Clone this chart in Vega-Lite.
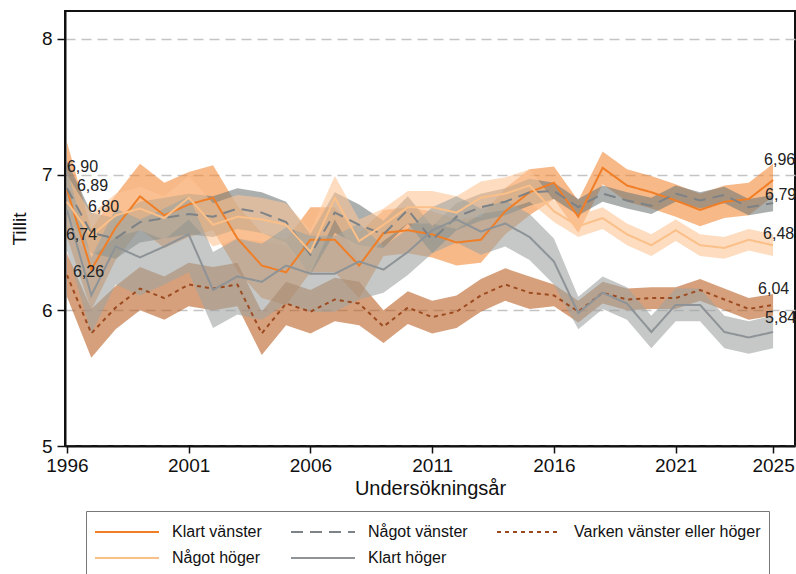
{
  "$schema": "https://vega.github.io/schema/vega-lite/v6.json",
  "width": 730,
  "height": 435,
  "autosize": "none",
  "padding": {"left": 65, "top": 11, "right": 1, "bottom": 128},
  "config": {
    "font": "Liberation Sans",
    "view": {"stroke": "#111", "strokeWidth": 2},
    "axis": {"labelColor": "#111", "titleColor": "#111", "titleFontWeight": "normal", "domainColor": "#111", "domainWidth": 2, "tickColor": "#111", "tickWidth": 1.5}
  },
  "datasets": {
    "series": [
      {"group":"Klart vänster","year":1996,"value":6.89,"low":6.54,"high":7.24},
      {"group":"Klart vänster","year":1997,"value":6.30,"low":6.00,"high":6.60},
      {"group":"Klart vänster","year":1998,"value":6.61,"low":6.37,"high":6.85},
      {"group":"Klart vänster","year":1999,"value":6.84,"low":6.60,"high":7.08},
      {"group":"Klart vänster","year":2000,"value":6.70,"low":6.46,"high":6.94},
      {"group":"Klart vänster","year":2001,"value":6.78,"low":6.54,"high":7.02},
      {"group":"Klart vänster","year":2002,"value":6.83,"low":6.59,"high":7.07},
      {"group":"Klart vänster","year":2003,"value":6.53,"low":6.29,"high":6.77},
      {"group":"Klart vänster","year":2004,"value":6.33,"low":6.09,"high":6.57},
      {"group":"Klart vänster","year":2005,"value":6.28,"low":6.04,"high":6.52},
      {"group":"Klart vänster","year":2006,"value":6.52,"low":6.28,"high":6.76},
      {"group":"Klart vänster","year":2007,"value":6.52,"low":6.28,"high":6.76},
      {"group":"Klart vänster","year":2008,"value":6.33,"low":6.09,"high":6.57},
      {"group":"Klart vänster","year":2009,"value":6.57,"low":6.40,"high":6.74},
      {"group":"Klart vänster","year":2010,"value":6.59,"low":6.42,"high":6.76},
      {"group":"Klart vänster","year":2011,"value":6.56,"low":6.39,"high":6.73},
      {"group":"Klart vänster","year":2012,"value":6.50,"low":6.33,"high":6.67},
      {"group":"Klart vänster","year":2013,"value":6.52,"low":6.35,"high":6.69},
      {"group":"Klart vänster","year":2014,"value":6.73,"low":6.56,"high":6.90},
      {"group":"Klart vänster","year":2015,"value":6.87,"low":6.70,"high":7.04},
      {"group":"Klart vänster","year":2016,"value":6.94,"low":6.82,"high":7.06},
      {"group":"Klart vänster","year":2017,"value":6.69,"low":6.57,"high":6.81},
      {"group":"Klart vänster","year":2018,"value":7.05,"low":6.93,"high":7.17},
      {"group":"Klart vänster","year":2019,"value":6.92,"low":6.80,"high":7.04},
      {"group":"Klart vänster","year":2020,"value":6.87,"low":6.75,"high":6.99},
      {"group":"Klart vänster","year":2021,"value":6.81,"low":6.69,"high":6.93},
      {"group":"Klart vänster","year":2022,"value":6.74,"low":6.62,"high":6.86},
      {"group":"Klart vänster","year":2023,"value":6.80,"low":6.68,"high":6.92},
      {"group":"Klart vänster","year":2024,"value":6.82,"low":6.70,"high":6.94},
      {"group":"Klart vänster","year":2025,"value":6.96,"low":6.84,"high":7.08},

      {"group":"Något vänster","year":1996,"value":6.90,"low":6.70,"high":7.10},
      {"group":"Något vänster","year":1997,"value":6.57,"low":6.42,"high":6.72},
      {"group":"Något vänster","year":1998,"value":6.53,"low":6.38,"high":6.68},
      {"group":"Något vänster","year":1999,"value":6.65,"low":6.50,"high":6.80},
      {"group":"Något vänster","year":2000,"value":6.68,"low":6.53,"high":6.83},
      {"group":"Något vänster","year":2001,"value":6.71,"low":6.56,"high":6.86},
      {"group":"Något vänster","year":2002,"value":6.69,"low":6.54,"high":6.84},
      {"group":"Något vänster","year":2003,"value":6.75,"low":6.60,"high":6.90},
      {"group":"Något vänster","year":2004,"value":6.72,"low":6.57,"high":6.87},
      {"group":"Något vänster","year":2005,"value":6.65,"low":6.50,"high":6.80},
      {"group":"Något vänster","year":2006,"value":6.41,"low":6.26,"high":6.56},
      {"group":"Något vänster","year":2007,"value":6.72,"low":6.57,"high":6.87},
      {"group":"Något vänster","year":2008,"value":6.63,"low":6.48,"high":6.78},
      {"group":"Något vänster","year":2009,"value":6.56,"low":6.46,"high":6.66},
      {"group":"Något vänster","year":2010,"value":6.74,"low":6.64,"high":6.84},
      {"group":"Något vänster","year":2011,"value":6.52,"low":6.42,"high":6.62},
      {"group":"Något vänster","year":2012,"value":6.69,"low":6.59,"high":6.79},
      {"group":"Något vänster","year":2013,"value":6.76,"low":6.66,"high":6.86},
      {"group":"Något vänster","year":2014,"value":6.80,"low":6.70,"high":6.90},
      {"group":"Något vänster","year":2015,"value":6.87,"low":6.77,"high":6.97},
      {"group":"Något vänster","year":2016,"value":6.88,"low":6.82,"high":6.94},
      {"group":"Något vänster","year":2017,"value":6.76,"low":6.70,"high":6.82},
      {"group":"Något vänster","year":2018,"value":6.86,"low":6.80,"high":6.92},
      {"group":"Något vänster","year":2019,"value":6.81,"low":6.75,"high":6.87},
      {"group":"Något vänster","year":2020,"value":6.77,"low":6.71,"high":6.83},
      {"group":"Något vänster","year":2021,"value":6.86,"low":6.80,"high":6.92},
      {"group":"Något vänster","year":2022,"value":6.81,"low":6.75,"high":6.87},
      {"group":"Något vänster","year":2023,"value":6.85,"low":6.79,"high":6.91},
      {"group":"Något vänster","year":2024,"value":6.76,"low":6.70,"high":6.82},
      {"group":"Något vänster","year":2025,"value":6.79,"low":6.73,"high":6.85},

      {"group":"Varken vänster eller höger","year":1996,"value":6.26,"low":6.10,"high":6.42},
      {"group":"Varken vänster eller höger","year":1997,"value":5.83,"low":5.65,"high":6.01},
      {"group":"Varken vänster eller höger","year":1998,"value":6.02,"low":5.86,"high":6.18},
      {"group":"Varken vänster eller höger","year":1999,"value":6.16,"low":6.00,"high":6.32},
      {"group":"Varken vänster eller höger","year":2000,"value":6.09,"low":5.93,"high":6.25},
      {"group":"Varken vänster eller höger","year":2001,"value":6.19,"low":6.03,"high":6.35},
      {"group":"Varken vänster eller höger","year":2002,"value":6.16,"low":6.00,"high":6.32},
      {"group":"Varken vänster eller höger","year":2003,"value":6.19,"low":6.03,"high":6.35},
      {"group":"Varken vänster eller höger","year":2004,"value":5.83,"low":5.67,"high":5.99},
      {"group":"Varken vänster eller höger","year":2005,"value":6.05,"low":5.89,"high":6.21},
      {"group":"Varken vänster eller höger","year":2006,"value":5.99,"low":5.83,"high":6.15},
      {"group":"Varken vänster eller höger","year":2007,"value":6.08,"low":5.92,"high":6.24},
      {"group":"Varken vänster eller höger","year":2008,"value":6.05,"low":5.89,"high":6.21},
      {"group":"Varken vänster eller höger","year":2009,"value":5.88,"low":5.76,"high":6.00},
      {"group":"Varken vänster eller höger","year":2010,"value":6.02,"low":5.90,"high":6.14},
      {"group":"Varken vänster eller höger","year":2011,"value":5.95,"low":5.83,"high":6.07},
      {"group":"Varken vänster eller höger","year":2012,"value":5.99,"low":5.87,"high":6.11},
      {"group":"Varken vänster eller höger","year":2013,"value":6.11,"low":5.99,"high":6.23},
      {"group":"Varken vänster eller höger","year":2014,"value":6.19,"low":6.07,"high":6.31},
      {"group":"Varken vänster eller höger","year":2015,"value":6.13,"low":6.01,"high":6.25},
      {"group":"Varken vänster eller höger","year":2016,"value":6.11,"low":6.03,"high":6.19},
      {"group":"Varken vänster eller höger","year":2017,"value":5.99,"low":5.91,"high":6.07},
      {"group":"Varken vänster eller höger","year":2018,"value":6.13,"low":6.05,"high":6.21},
      {"group":"Varken vänster eller höger","year":2019,"value":6.08,"low":6.00,"high":6.16},
      {"group":"Varken vänster eller höger","year":2020,"value":6.09,"low":6.01,"high":6.17},
      {"group":"Varken vänster eller höger","year":2021,"value":6.09,"low":6.01,"high":6.17},
      {"group":"Varken vänster eller höger","year":2022,"value":6.15,"low":6.07,"high":6.23},
      {"group":"Varken vänster eller höger","year":2023,"value":6.08,"low":6.00,"high":6.16},
      {"group":"Varken vänster eller höger","year":2024,"value":6.01,"low":5.93,"high":6.09},
      {"group":"Varken vänster eller höger","year":2025,"value":6.04,"low":5.96,"high":6.12},

      {"group":"Något höger","year":1996,"value":6.80,"low":6.60,"high":7.00},
      {"group":"Något höger","year":1997,"value":6.55,"low":6.39,"high":6.71},
      {"group":"Något höger","year":1998,"value":6.70,"low":6.54,"high":6.86},
      {"group":"Något höger","year":1999,"value":6.75,"low":6.59,"high":6.91},
      {"group":"Något höger","year":2000,"value":6.68,"low":6.52,"high":6.84},
      {"group":"Något höger","year":2001,"value":6.83,"low":6.67,"high":6.99},
      {"group":"Något höger","year":2002,"value":6.63,"low":6.47,"high":6.79},
      {"group":"Något höger","year":2003,"value":6.69,"low":6.53,"high":6.85},
      {"group":"Något höger","year":2004,"value":6.67,"low":6.51,"high":6.83},
      {"group":"Något höger","year":2005,"value":6.63,"low":6.47,"high":6.79},
      {"group":"Något höger","year":2006,"value":6.43,"low":6.27,"high":6.59},
      {"group":"Något höger","year":2007,"value":6.83,"low":6.67,"high":6.99},
      {"group":"Något höger","year":2008,"value":6.51,"low":6.35,"high":6.67},
      {"group":"Något höger","year":2009,"value":6.63,"low":6.51,"high":6.75},
      {"group":"Något höger","year":2010,"value":6.76,"low":6.64,"high":6.88},
      {"group":"Något höger","year":2011,"value":6.76,"low":6.64,"high":6.88},
      {"group":"Något höger","year":2012,"value":6.72,"low":6.60,"high":6.84},
      {"group":"Något höger","year":2013,"value":6.83,"low":6.71,"high":6.95},
      {"group":"Något höger","year":2014,"value":6.86,"low":6.74,"high":6.98},
      {"group":"Något höger","year":2015,"value":6.92,"low":6.80,"high":7.04},
      {"group":"Något höger","year":2016,"value":6.73,"low":6.65,"high":6.81},
      {"group":"Något höger","year":2017,"value":6.62,"low":6.54,"high":6.70},
      {"group":"Något höger","year":2018,"value":6.68,"low":6.60,"high":6.76},
      {"group":"Något höger","year":2019,"value":6.56,"low":6.48,"high":6.64},
      {"group":"Något höger","year":2020,"value":6.48,"low":6.40,"high":6.56},
      {"group":"Något höger","year":2021,"value":6.59,"low":6.51,"high":6.67},
      {"group":"Något höger","year":2022,"value":6.48,"low":6.40,"high":6.56},
      {"group":"Något höger","year":2023,"value":6.46,"low":6.38,"high":6.54},
      {"group":"Något höger","year":2024,"value":6.52,"low":6.44,"high":6.60},
      {"group":"Något höger","year":2025,"value":6.48,"low":6.40,"high":6.56},

      {"group":"Klart höger","year":1996,"value":6.74,"low":6.44,"high":7.04},
      {"group":"Klart höger","year":1997,"value":6.11,"low":5.83,"high":6.39},
      {"group":"Klart höger","year":1998,"value":6.47,"low":6.19,"high":6.75},
      {"group":"Klart höger","year":1999,"value":6.39,"low":6.11,"high":6.67},
      {"group":"Klart höger","year":2000,"value":6.47,"low":6.19,"high":6.75},
      {"group":"Klart höger","year":2001,"value":6.56,"low":6.28,"high":6.84},
      {"group":"Klart höger","year":2002,"value":6.15,"low":5.87,"high":6.43},
      {"group":"Klart höger","year":2003,"value":6.25,"low":5.97,"high":6.53},
      {"group":"Klart höger","year":2004,"value":6.21,"low":5.93,"high":6.49},
      {"group":"Klart höger","year":2005,"value":6.33,"low":6.05,"high":6.61},
      {"group":"Klart höger","year":2006,"value":6.27,"low":5.99,"high":6.55},
      {"group":"Klart höger","year":2007,"value":6.27,"low":5.99,"high":6.55},
      {"group":"Klart höger","year":2008,"value":6.36,"low":6.08,"high":6.64},
      {"group":"Klart höger","year":2009,"value":6.30,"low":6.13,"high":6.47},
      {"group":"Klart höger","year":2010,"value":6.43,"low":6.26,"high":6.60},
      {"group":"Klart höger","year":2011,"value":6.59,"low":6.42,"high":6.76},
      {"group":"Klart höger","year":2012,"value":6.67,"low":6.50,"high":6.84},
      {"group":"Klart höger","year":2013,"value":6.58,"low":6.41,"high":6.75},
      {"group":"Klart höger","year":2014,"value":6.64,"low":6.47,"high":6.81},
      {"group":"Klart höger","year":2015,"value":6.54,"low":6.37,"high":6.71},
      {"group":"Klart höger","year":2016,"value":6.36,"low":6.19,"high":6.53},
      {"group":"Klart höger","year":2017,"value":5.98,"low":5.86,"high":6.10},
      {"group":"Klart höger","year":2018,"value":6.13,"low":6.01,"high":6.25},
      {"group":"Klart höger","year":2019,"value":6.05,"low":5.93,"high":6.17},
      {"group":"Klart höger","year":2020,"value":5.84,"low":5.72,"high":5.96},
      {"group":"Klart höger","year":2021,"value":6.04,"low":5.92,"high":6.16},
      {"group":"Klart höger","year":2022,"value":6.04,"low":5.92,"high":6.16},
      {"group":"Klart höger","year":2023,"value":5.84,"low":5.72,"high":5.96},
      {"group":"Klart höger","year":2024,"value":5.80,"low":5.68,"high":5.92},
      {"group":"Klart höger","year":2025,"value":5.84,"low":5.72,"high":5.96}
    ],
    "labels": [
      {"group":"Något vänster","year":1996,"value":6.90,"label":"6,90"},
      {"group":"Klart vänster","year":1996,"value":6.89,"label":"6,89"},
      {"group":"Något höger","year":1996,"value":6.80,"label":"6,80"},
      {"group":"Klart höger","year":1996,"value":6.74,"label":"6,74"},
      {"group":"Varken vänster eller höger","year":1996,"value":6.26,"label":"6,26"},
      {"group":"Klart vänster","year":2025,"value":6.96,"label":"6,96"},
      {"group":"Något vänster","year":2025,"value":6.79,"label":"6,79"},
      {"group":"Något höger","year":2025,"value":6.48,"label":"6,48"},
      {"group":"Varken vänster eller höger","year":2025,"value":6.04,"label":"6,04"},
      {"group":"Klart höger","year":2025,"value":5.84,"label":"5,84"}
    ]
  },
  "encoding": {
    "x": {
      "field": "year", "type": "quantitative",
      "scale": {"domain": [1995.92, 2025.9], "nice": false, "zero": false},
      "axis": {"values": [1996, 2001, 2006, 2011, 2016, 2021, 2025], "format": "d", "grid": false, "labelFontSize": 19, "titleFontSize": 20, "tickSize": 7, "labelPadding": 3, "titlePadding": 3, "labelFlush": false},
      "title": "Undersökningsår"
    }
  },
  "layer": [
    {
      "data": {"name": "series"},
      "mark": {"type": "area", "fillOpacity": 0.6, "strokeWidth": 0},
      "encoding": {
        "y": {"field": "low", "type": "quantitative", "scale": {"domain": [5, 8.206], "nice": false, "zero": false}, "title": "Tillit",
          "axis": {"values": [5, 6, 7, 8], "format": "d", "grid": true, "gridDash": [10, 6], "gridColor": "#C4C4C4", "gridWidth": 1.5, "labelFontSize": 19, "titleFontSize": 19, "tickSize": 8, "labelPadding": 5, "titlePadding": 12}},
        "y2": {"field": "high"},
        "fill": {"field": "group", "type": "nominal", "legend": null,
          "scale": {"domain": ["Klart höger", "Något höger", "Varken vänster eller höger", "Något vänster", "Klart vänster"],
                    "range": ["#9EA3A0", "#FCC596", "#BB6125", "#737A78", "#F48A3A"]}}
      }
    },
    {
      "data": {"name": "series"},
      "mark": {"type": "line", "strokeWidth": 2},
      "encoding": {
        "y": {"field": "value", "type": "quantitative", "scale": {"domain": [5, 8.206], "nice": false, "zero": false}, "title": "Tillit"},
        "color": {"field": "group", "type": "nominal",
          "scale": {"domain": ["Klart vänster", "Något vänster", "Varken vänster eller höger", "Något höger", "Klart höger"],
                    "range": ["#F07E26", "#7D8286", "#9C4A1F", "#FBBF88", "#8E9397"]},
          "legend": {"title": null, "orient": "none", "legendX": 21, "legendY": 500, "columns": 3, "direction": "horizontal", "symbolType": "stroke", "symbolSize": 4096, "clipHeight": 26, "symbolStrokeWidth": 2, "labelFontSize": 16, "labelColor": "#111", "labelOffset": 12, "labelLimit": 400, "columnPadding": 28, "rowPadding": 0, "padding": 8, "strokeColor": "#777"}},
        "strokeDash": {"field": "group", "type": "nominal",
          "scale": {"domain": ["Klart vänster", "Något vänster", "Varken vänster eller höger", "Något höger", "Klart höger"],
                    "range": [[1, 0], [12, 7], [4, 4], [1, 0], [1, 0]]},
          "legend": {"title": null, "orient": "none", "legendX": 21, "legendY": 500, "columns": 3, "direction": "horizontal", "symbolType": "stroke", "symbolSize": 4096, "clipHeight": 26, "symbolStrokeWidth": 2, "labelFontSize": 16, "labelColor": "#111", "labelOffset": 12, "labelLimit": 400, "columnPadding": 28, "rowPadding": 0, "padding": 8, "strokeColor": "#777"}}
      }
    },
    {"data": {"name": "labels"}, "transform": [{"filter": "datum.label == '6,90'"}], "mark": {"type": "text", "align": "left", "baseline": "middle", "fontSize": 16, "color": "#222", "dx": 0, "dy": -21}, "encoding": {"y": {"field": "value", "type": "quantitative", "scale": {"domain": [5, 8.206], "nice": false, "zero": false}, "title": "Tillit"}, "text": {"field": "label"}}},
    {"data": {"name": "labels"}, "transform": [{"filter": "datum.label == '6,89'"}], "mark": {"type": "text", "align": "left", "baseline": "middle", "fontSize": 16, "color": "#222", "dx": 10, "dy": -4}, "encoding": {"y": {"field": "value", "type": "quantitative", "scale": {"domain": [5, 8.206], "nice": false, "zero": false}, "title": "Tillit"}, "text": {"field": "label"}}},
    {"data": {"name": "labels"}, "transform": [{"filter": "datum.label == '6,80'"}], "mark": {"type": "text", "align": "left", "baseline": "middle", "fontSize": 16, "color": "#222", "dx": 21, "dy": 5}, "encoding": {"y": {"field": "value", "type": "quantitative", "scale": {"domain": [5, 8.206], "nice": false, "zero": false}, "title": "Tillit"}, "text": {"field": "label"}}},
    {"data": {"name": "labels"}, "transform": [{"filter": "datum.label == '6,74'"}], "mark": {"type": "text", "align": "left", "baseline": "middle", "fontSize": 16, "color": "#222", "dx": -1, "dy": 25}, "encoding": {"y": {"field": "value", "type": "quantitative", "scale": {"domain": [5, 8.206], "nice": false, "zero": false}, "title": "Tillit"}, "text": {"field": "label"}}},
    {"data": {"name": "labels"}, "transform": [{"filter": "datum.label == '6,26'"}], "mark": {"type": "text", "align": "left", "baseline": "middle", "fontSize": 16, "color": "#222", "dx": 6, "dy": -3}, "encoding": {"y": {"field": "value", "type": "quantitative", "scale": {"domain": [5, 8.206], "nice": false, "zero": false}, "title": "Tillit"}, "text": {"field": "label"}}},
    {"data": {"name": "labels"}, "transform": [{"filter": "datum.label == '6,96'"}], "mark": {"type": "text", "align": "left", "baseline": "middle", "fontSize": 16, "color": "#222", "dx": -9, "dy": -20}, "encoding": {"y": {"field": "value", "type": "quantitative", "scale": {"domain": [5, 8.206], "nice": false, "zero": false}, "title": "Tillit"}, "text": {"field": "label"}}},
    {"data": {"name": "labels"}, "transform": [{"filter": "datum.label == '6,79'"}], "mark": {"type": "text", "align": "left", "baseline": "middle", "fontSize": 16, "color": "#222", "dx": -8, "dy": -8}, "encoding": {"y": {"field": "value", "type": "quantitative", "scale": {"domain": [5, 8.206], "nice": false, "zero": false}, "title": "Tillit"}, "text": {"field": "label"}}},
    {"data": {"name": "labels"}, "transform": [{"filter": "datum.label == '6,48'"}], "mark": {"type": "text", "align": "left", "baseline": "middle", "fontSize": 16, "color": "#222", "dx": -10, "dy": -11}, "encoding": {"y": {"field": "value", "type": "quantitative", "scale": {"domain": [5, 8.206], "nice": false, "zero": false}, "title": "Tillit"}, "text": {"field": "label"}}},
    {"data": {"name": "labels"}, "transform": [{"filter": "datum.label == '6,04'"}], "mark": {"type": "text", "align": "left", "baseline": "middle", "fontSize": 16, "color": "#222", "dx": -15, "dy": -16}, "encoding": {"y": {"field": "value", "type": "quantitative", "scale": {"domain": [5, 8.206], "nice": false, "zero": false}, "title": "Tillit"}, "text": {"field": "label"}}},
    {"data": {"name": "labels"}, "transform": [{"filter": "datum.label == '5,84'"}], "mark": {"type": "text", "align": "left", "baseline": "middle", "fontSize": 16, "color": "#222", "dx": -8, "dy": -14}, "encoding": {"y": {"field": "value", "type": "quantitative", "scale": {"domain": [5, 8.206], "nice": false, "zero": false}, "title": "Tillit"}, "text": {"field": "label"}}}
  ]
}
